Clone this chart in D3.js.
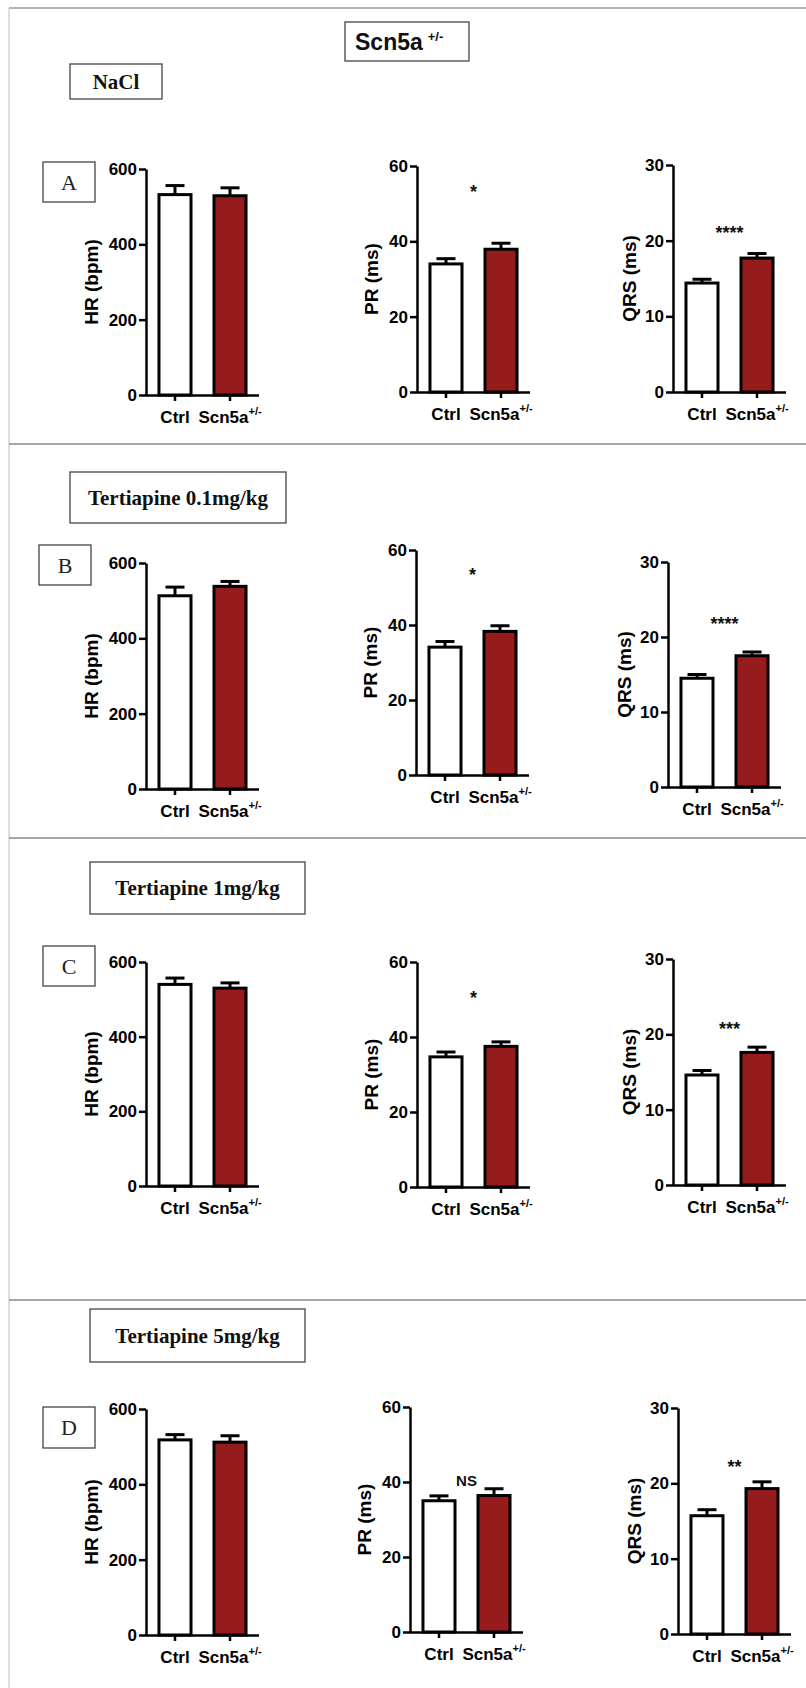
<!DOCTYPE html>
<html>
<head>
<meta charset="utf-8">
<script src="https://cdn.jsdelivr.net/npm/d3@7"></script>
<style>
  html, body { margin: 0; padding: 0; background: #fff; }
  svg { display: block; }
  .sans { font-family: "Liberation Sans", Arial, sans-serif; font-weight: bold; }
  .serif { font-family: "Liberation Serif", "Times New Roman", serif; }
</style>
</head>
<body>
<div id="chart"></div>
<script>
// ---------------- DATA ----------------
const groups = ["Ctrl", "Scn5a"];
const groupSup = ["", "+/-"];
const panelLetters = ["A", "B", "C", "D"];
const treatments = ["NaCl", "Tertiapine 0.1mg/kg", "Tertiapine 1mg/kg", "Tertiapine 5mg/kg"];

const measures = ["HR (bpm)", "PR (ms)", "QRS (ms)"];
const yMax = [600, 60, 30];
const hrTicks = [0, 200, 400, 600];
const prTicks = [0, 20, 40, 60];
const qrsTicks = [0, 10, 20, 30];

// mean [Ctrl, Scn5a] per treatment row
const hrMean  = [[532, 529], [513, 538], [540, 530], [518, 512]];
const hrSem   = [[24, 21], [23, 13], [17, 14], [14, 17]];
const prMean  = [[34.0, 37.9], [34.1, 38.3], [34.7, 37.5], [35.0, 36.4]];
const prSem   = [[1.4, 1.6], [1.5, 1.5], [1.3, 1.2], [1.3, 1.8]];
const qrsMean = [[14.4, 17.7], [14.5, 17.5], [14.6, 17.6], [15.7, 19.3]];
const qrsSem  = [[0.5, 0.6], [0.5, 0.5], [0.6, 0.7], [0.8, 0.9]];

// significance labels and the value level where they sit
const prSig  = ["*", "*", "*", "NS"];
const prSigY = [54.5, 54.7, 51.7, 40.5];
const qrsSig  = ["****", "****", "***", "**"];
const qrsSigY = [21.7, 22.4, 21.4, 22.8];

// ---------------- LAYOUT ----------------
const W = 806, H = 1688;
const rowLayout = [
  { titleBox: [70, 64, 92, 35],   letterBox: [43, 162, 52, 40],
    charts: [[146, 169, 395], [417, 166, 392], [673, 165, 392]] },
  { titleBox: [70, 472, 216, 51], letterBox: [39, 545, 52, 40],
    charts: [[146, 563, 789], [416, 550, 775], [668, 562, 787]] },
  { titleBox: [90, 862, 215, 52], letterBox: [43, 946, 52, 40],
    charts: [[146, 962, 1186], [417, 962, 1187], [673, 959, 1185]] },
  { titleBox: [90, 1309, 215, 53], letterBox: [43, 1407, 52, 41],
    charts: [[146, 1409, 1635], [410, 1407, 1632], [678, 1408, 1634]] }
];
const separators = [444, 838, 1300];
const yLabelOffset = [55, 46, 44];
const barFill = ["#ffffff", "#961b1d"];

const svg = d3.select("#chart").append("svg")
  .attr("width", W).attr("height", H)
  .attr("viewBox", `0 0 ${W} ${H}`);

svg.append("rect").attr("width", W).attr("height", H).attr("fill", "#fff");

// frame lines
svg.append("line").attr("x1", 9).attr("x2", W).attr("y1", 8).attr("y2", 8)
  .attr("stroke", "#9a9a9a").attr("stroke-width", 1.5);
svg.append("line").attr("x1", 9).attr("x2", 9).attr("y1", 8).attr("y2", H)
  .attr("stroke", "#c8c8c8").attr("stroke-width", 1.2);
svg.selectAll("line.sep").data(separators).enter().append("line")
  .attr("class", "sep")
  .attr("x1", 9).attr("x2", W)
  .attr("y1", d => d).attr("y2", d => d)
  .attr("stroke", "#8a8a8a").attr("stroke-width", 1.5);

// main title box
svg.append("rect").attr("x", 345).attr("y", 22).attr("width", 124).attr("height", 39)
  .attr("fill", "#fff").attr("stroke", "#444").attr("stroke-width", 1.3);
const mainTitle = svg.append("text").attr("class", "sans")
  .attr("x", 355).attr("y", 50).attr("font-size", 23).attr("fill", "#111");
mainTitle.append("tspan").text("Scn5a");
mainTitle.append("tspan").attr("font-size", 13).attr("dx", 5).attr("dy", -9).text("+/-");

const allMeans = [hrMean, prMean, qrsMean];
const allSems = [hrSem, prSem, qrsSem];
const allTicks = [hrTicks, prTicks, qrsTicks];
const allSig = [null, prSig, qrsSig];
const allSigY = [null, prSigY, qrsSigY];

rowLayout.forEach((row, r) => {
  // treatment title box
  const [tx, ty, tw, th] = row.titleBox;
  svg.append("rect").attr("x", tx).attr("y", ty).attr("width", tw).attr("height", th)
    .attr("fill", "#fff").attr("stroke", "#444").attr("stroke-width", 1.3);
  svg.append("text").attr("class", "serif")
    .attr("x", tx + tw / 2).attr("y", ty + th / 2 + 7)
    .attr("text-anchor", "middle").attr("font-weight", "bold")
    .attr("font-size", 21).attr("fill", "#111")
    .text(treatments[r]);

  // panel letter box
  const [lx, ly, lw, lh] = row.letterBox;
  svg.append("rect").attr("x", lx).attr("y", ly).attr("width", lw).attr("height", lh)
    .attr("fill", "#fff").attr("stroke", "#444").attr("stroke-width", 1.3);
  svg.append("text").attr("class", "serif")
    .attr("x", lx + lw / 2).attr("y", ly + lh / 2 + 7.5)
    .attr("text-anchor", "middle").attr("font-size", 22).attr("fill", "#222")
    .text(panelLetters[r]);

  row.charts.forEach((c, m) => {
    const [ax, top, bottom] = c;
    const g = svg.append("g");
    const y = d3.scaleLinear().domain([0, yMax[m]]).range([bottom, top]);
    const x = d3.scaleBand().domain(groups).range([ax, ax + 113])
      .paddingInner(0.418).paddingOuter(0.236);

    const means = allMeans[m][r];
    const sems = allSems[m][r];

    // bars
    g.selectAll("rect.bar").data(groups).enter().append("rect")
      .attr("class", "bar")
      .attr("x", d => x(d))
      .attr("width", x.bandwidth())
      .attr("y", (d, i) => y(means[i]))
      .attr("height", (d, i) => y(0) - y(means[i]))
      .attr("fill", (d, i) => barFill[i])
      .attr("stroke", "#000").attr("stroke-width", 3);

    // error bars (upper)
    g.selectAll("line.err").data(groups).enter().append("line")
      .attr("class", "err")
      .attr("x1", d => x(d) + x.bandwidth() / 2)
      .attr("x2", d => x(d) + x.bandwidth() / 2)
      .attr("y1", (d, i) => y(means[i]))
      .attr("y2", (d, i) => y(means[i] + sems[i]))
      .attr("stroke", "#000").attr("stroke-width", 3);
    g.selectAll("line.cap").data(groups).enter().append("line")
      .attr("class", "cap")
      .attr("x1", d => x(d) + x.bandwidth() / 2 - 9.5)
      .attr("x2", d => x(d) + x.bandwidth() / 2 + 9.5)
      .attr("y1", (d, i) => y(means[i] + sems[i]))
      .attr("y2", (d, i) => y(means[i] + sems[i]))
      .attr("stroke", "#000").attr("stroke-width", 3);

    // y axis
    const yAxis = g.append("g").attr("transform", `translate(${ax},0)`)
      .call(d3.axisLeft(y).tickValues(allTicks[m]).tickSize(7).tickSizeOuter(0).tickPadding(2));
    yAxis.selectAll("path,line").attr("stroke", "#000").attr("stroke-width", 2.5);
    yAxis.selectAll("text").attr("class", "sans").attr("font-size", 17).attr("fill", "#000");

    // x axis
    const xAxis = g.append("g").attr("transform", `translate(0,${bottom})`)
      .call(d3.axisBottom(x).tickSize(6).tickSizeOuter(0).tickPadding(4));
    xAxis.select("path.domain").attr("d", `M${ax},0.5H${ax + 113}`);
    xAxis.selectAll("path,line").attr("stroke", "#000").attr("stroke-width", 2.5);
    xAxis.selectAll("text").attr("class", "sans").attr("font-size", 17).attr("fill", "#000")
      .attr("dy", "1.05em")
      .each(function (d, i) {
        const t = d3.select(this);
        t.text(null);
        t.append("tspan").text(d);
        if (groupSup[i]) {
          t.append("tspan").attr("font-size", 11).attr("dy", -8).text(groupSup[i]);
        }
      });

    // y label
    g.append("text").attr("class", "sans")
      .attr("transform", `translate(${ax - yLabelOffset[m]},${(top + bottom) / 2}) rotate(-90)`)
      .attr("text-anchor", "middle").attr("font-size", 19).attr("fill", "#000")
      .attr("dominant-baseline", "central")
      .text(measures[m]);

    // significance
    if (allSig[m]) {
      const lab = allSig[m][r];
      const cx = (x(groups[0]) + x(groups[1]) + x.bandwidth()) / 2;
      const isText = lab === "NS";
      const fs = isText ? 15 : 18;
      g.append("text").attr("class", "sans")
        .attr("x", cx)
        .attr("y", y(allSigY[m][r]) + (isText ? 0.36 * fs : 0.6 * fs))
        .attr("text-anchor", "middle").attr("font-size", fs).attr("fill", "#111")
        .text(lab);
    }
  });
});
</script>
</body>
</html>
